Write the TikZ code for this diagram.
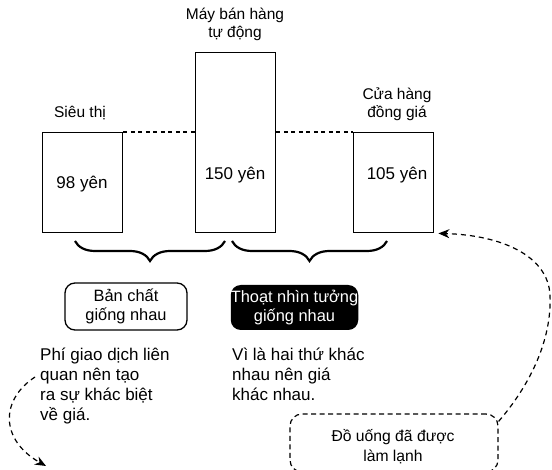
\documentclass[tikz,border=0pt]{standalone}
\usepackage{fontspec}
\setmainfont{Liberation Sans}
\usetikzlibrary{decorations.pathreplacing,arrows.meta}
\begin{document}
\begin{tikzpicture}[x=1pt,y=-1pt,
  shop/.style={draw,line width=1.4pt,inner sep=0pt,anchor=north west,minimum width=80pt},
  lbl/.style={font=\fontsize{15.5}{18}\selectfont,align=center,inner sep=0pt},
  price/.style={font=\fontsize{17}{20}\selectfont,inner sep=0pt},
  level/.style={line width=1.2pt,dash pattern=on 4pt off 3.5pt},
  bracket/.style={decorate,decoration={brace,mirror,amplitude=20pt,aspect=0.5},line width=2.2pt},
  tag/.style={font=\fontsize{16.4}{19}\selectfont,align=center,inner sep=0pt,rounded corners=10pt},
  para/.style={font=\fontsize{17}{20}\selectfont,align=left,inner sep=0pt,anchor=north west},
  flow/.style={line width=1.2pt,dash pattern=on 5pt off 4pt,-{Stealth[length=11pt,width=9pt]}}
]
\useasboundingbox (0,0) rectangle (552,470);

% three shops and their prices
\node[shop,minimum height=100pt] (super) at (42,132) {};
\node[shop,minimum height=180pt] (vend) at (195,52) {};
\node[shop,minimum height=100pt] (dollar) at (353,132) {};

\node[lbl] (superlbl) at (80,113) {Siêu thị};
\node[lbl] (vendlbl) at (235,24) {Máy bán hàng\\tự động};
\node[lbl] (dollarlbl) at (397,104) {Cửa hàng\\đồng giá};

\node[price] (p98) at (82,184) {98 yên};
\node[price] (p150) at (235,175) {150 yên};
\node[price] (p105) at (397,175) {105 yên};

% dashed level of the two cheaper shops
\draw[level] (super.north east) -- (super.north east -| vend.west);
\draw[level] (vend.east |- dollar.north) -- (dollar.north west);

% braces grouping the pairs
\draw[bracket] (75,241) -- (225,241);
\draw[bracket] (232,241) -- (387,241);

% conclusions
\node[tag,draw,line width=1.3pt,minimum width=122pt,minimum height=47pt] (same) at (126,306.5) {Bản chất\\giống nhau};
\node[tag,fill=black,text=white,minimum width=125pt,minimum height=45pt] (seem) at (294.5,307.5) {Thoạt nhìn tưởng\\giống nhau};

\node[para] (why1) at (40,348) {Phí giao dịch liên\\quan nên tạo\\ra sự khác biệt\\về giá.};
\node[para] (why2) at (232,348) {Vì là hai thứ khác\\nhau nên giá\\khác nhau.};

% chilled drinks: dashed frame running past the lower edge
\node[draw,line width=1.2pt,dash pattern=on 5pt off 3.5pt,rounded corners=12pt,
      minimum width=208pt,minimum height=58pt,inner sep=0pt] (cold) at (394,443) {};
\node[font=\fontsize{15.7}{20}\selectfont,align=center,inner sep=0pt] (coldtxt) at (393,447) {Đồ uống đã được\\làm lạnh};

% dashed arrows
\coordinate (ls) at (35,377);
\coordinate (le) at (46,466);
\draw[flow] (ls) .. controls (0,400) and (0,440) .. (le);
\draw[flow] ([yshift=-8pt]cold.north east) .. controls (530,385) and (552,340) .. (550,295)
  .. controls (548,255) and (500,235) .. ([xshift=4pt]dollar.south east);
\end{tikzpicture}
\end{document}
